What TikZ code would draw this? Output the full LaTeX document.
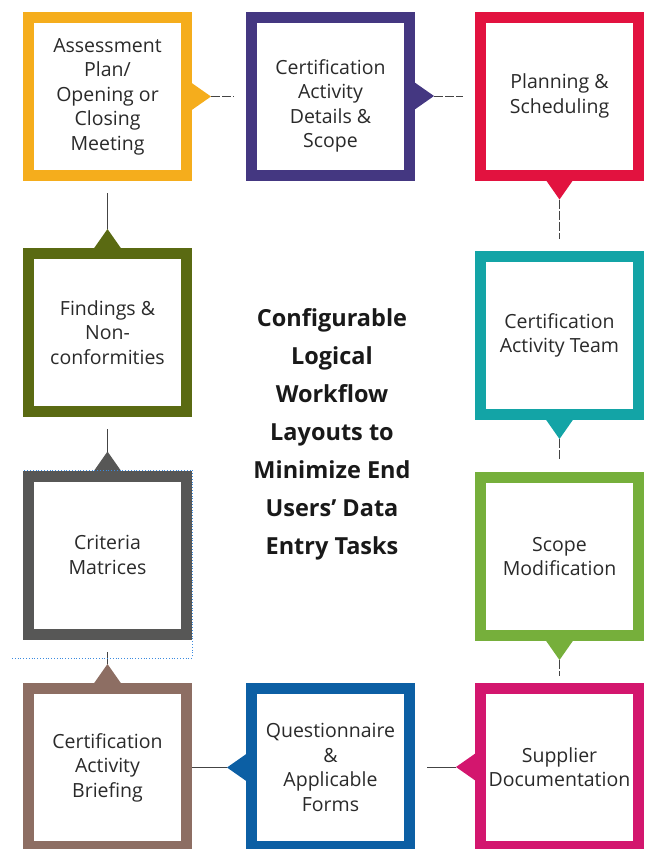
\documentclass[tikz,border=0pt]{standalone}
\usepackage{fontspec}
\setmainfont{Open Sans}
\usepackage{tikz}
\usetikzlibrary{shadows}
\definecolor{cyel}{HTML}{F5AD1C}
\definecolor{cpur}{HTML}{443781}
\definecolor{cred}{HTML}{E2123F}
\definecolor{ctea}{HTML}{13A4A6}
\definecolor{cgre}{HTML}{76AF3B}
\definecolor{cmag}{HTML}{D3166E}
\definecolor{cblu}{HTML}{0C5FA4}
\definecolor{cbro}{HTML}{8D6E63}
\definecolor{cgra}{HTML}{575756}
\definecolor{coli}{HTML}{5A6A12}
\definecolor{txtc}{HTML}{2A2A2A}
\definecolor{linec}{HTML}{444444}
\definecolor{selc}{HTML}{3B8BE0}
\tikzset{
  stepbox/.style={draw=#1, fill=white, line width=11pt, minimum width=158pt,
    minimum height=158pt, align=center, text=txtc,
    font=\fontsize{19.5}{24.5}\selectfont,
    drop shadow={opacity=0.12, shadow xshift=-3pt, shadow yshift=-3pt}},
  link/.style={draw=linec, line width=0.8pt, shorten >=12pt},
  gapline/.style={dash pattern=on 9pt off 2pt},
}
\begin{document}
\begin{tikzpicture}[x=1pt,y=-1pt]
    \useasboundingbox (0,0) rectangle (647,849);
    \clip (0,0) rectangle (647,849);

    \node[stepbox=cyel] (yel) at (107.5,96.5) {Assessment\\Plan/\\Opening or\\Closing\\Meeting};
    \node[stepbox=cpur,label={[text=txtc,font=\fontsize{19.5}{24.5}\selectfont,align=center,yshift=-10pt]center:Certification\\Activity\\Details \&\\Scope}] (pur) at (330.5,96) {};
    \node[stepbox=cred] (red) at (559.5,96) {Planning \&\\Scheduling};
    \node[stepbox=ctea] (tea) at (559.5,335.5) {Certification\\Activity Team};
    \node[stepbox=cgre] (gre) at (559.5,556.5) {Scope\\Modification};
    \node[stepbox=cmag] (mag) at (559.5,767) {Supplier\\Documentation};
    \node[stepbox=cblu] (blu) at (330.5,767.5) {Questionnaire\\\&\\Applicable\\Forms};
    \node[stepbox=cbro] (bro) at (107.5,767.5) {Certification\\Activity\\Briefing};
    \node[stepbox=cgra] (gra) at (107.5,555) {Criteria\\Matrices};
    \node[stepbox=coli] (oli) at (107.5,332.5) {Findings \&\\Non-\\conformities};

    \node[align=center,text=black!90,font=\bfseries\fontsize{23.5}{38}\selectfont] (title) at (332,434)
      {Configurable\\Logical\\Workflow\\Layouts to\\Minimize End\\Users’ Data\\Entry Tasks};

    % tabs
    \fill[cyel] (yel.east) ++(-1,-14) -- ++(20,14) coordinate (yeltip) -- ++(-20,14) -- cycle;
    \fill[cpur] (pur.east) ++(-1,-14) -- ++(20,14) coordinate (purtip) -- ++(-20,14) -- cycle;
    \fill[cred] (red.south) ++(-14,-1) -- ++(14,20) coordinate (redtip) -- ++(14,-20) -- cycle;
    \fill[ctea] (tea.south) ++(-14,-1) -- ++(14,20) coordinate (teatip) -- ++(14,-20) -- cycle;
    \fill[cgre] (gre.south) ++(-14,-1) -- ++(14,20) coordinate (gretip) -- ++(14,-20) -- cycle;
    \fill[cmag] (mag.west) ++(1,-14) -- ++(-20,14) coordinate (magtip) -- ++(20,14) -- cycle;
    \fill[cblu] (blu.west) ++(1,-14) -- ++(-20,14) coordinate (blutip) -- ++(20,14) -- cycle;
    \fill[cbro] (bro.north) ++(-14,1) -- ++(14,-20) coordinate (brotip) -- ++(14,20) -- cycle;
    \fill[cgra] (gra.north) ++(-14,1) -- ++(14,-20) coordinate (gratip) -- ++(14,20) -- cycle;
    \fill[coli] (oli.north) ++(-14,1) -- ++(14,-20) coordinate (olitip) -- ++(14,20) -- cycle;

    % connectors
    \draw[link,gapline] (yeltip) -- (yeltip -| pur.west);
    \draw[link,gapline] (purtip) -- (purtip -| red.west);
    \draw[link,gapline] (redtip) -- (redtip |- tea.north);
    \draw[link,gapline] (teatip) -- (teatip |- gre.north);
    \draw[link,gapline,shorten >=7pt] (gretip) -- (gretip |- mag.north);
    \draw[link] (magtip) -- (magtip -| blu.east);
    \draw[link,shorten >=0pt] (blutip) -- (blutip -| bro.east);
    \draw[link] (brotip) -- (brotip |- gra.south);
    \draw[link] (gratip) -- (gratip |- oli.south);
    \draw[link] (olitip) -- (olitip |- yel.south);

    % selection frame
    \draw[selc,dotted,line width=0.8pt] (12,658) -- (192,658) -- (192,470) -- (23,470);
\end{tikzpicture}
\end{document}
